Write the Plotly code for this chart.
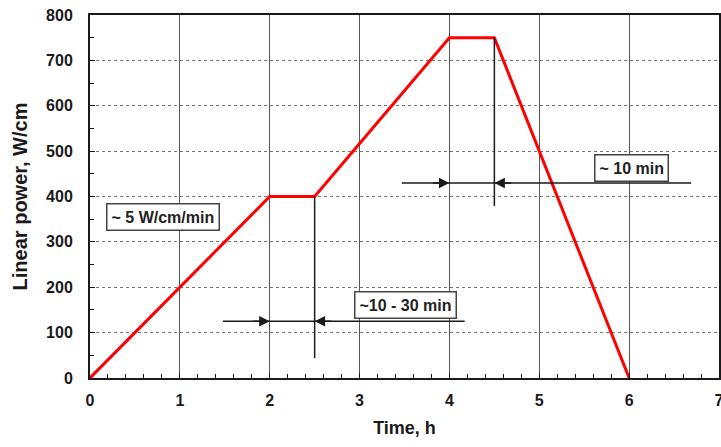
import plotly.graph_objects as go

time_h = [0, 2, 2.5, 4, 4.5, 6]
power = [0, 400, 400, 750, 750, 0]

x_ticks = [0, 1, 2, 3, 4, 5, 6, 7]
y_ticks = [0, 100, 200, 300, 400, 500, 600, 700, 800]

# annotation data
hold1_x = [2, 2.5]
hold1_y = 125
hold1_span = [1.48, 4.17]
hold1_vline = [44, 400]
hold2_x = [4, 4.5]
hold2_y = 430
hold2_span = [3.47, 6.69]
hold2_vline = [379, 750]
labels = ["~ 5 W/cm/min", "~10 - 30 min", "~ 10 min"]
label_x = [0.81, 3.51, 6.03]
label_y = [354, 161, 463]

FAM = "Liberation Sans, Arial"
fig = go.Figure()
fig.add_trace(go.Scatter(x=time_h, y=power, mode="lines",
                         line=dict(color="#ff0000", width=3), showlegend=False))

line_col = "#1a1a1a"

for span, yv in [(hold1_span, hold1_y), (hold2_span, hold2_y)]:
    fig.add_shape(type="line", x0=span[0], x1=span[1], y0=yv, y1=yv,
                  line=dict(color=line_col, width=1.5), layer="above")
for xv, vl in [(hold1_x[1], hold1_vline), (hold2_x[1], hold2_vline)]:
    fig.add_shape(type="line", x0=xv, x1=xv, y0=vl[0], y1=vl[1],
                  line=dict(color=line_col, width=1.5), layer="above")

for xs, yv in [(hold1_x, hold1_y), (hold2_x, hold2_y)]:
    fig.add_annotation(x=xs[0], y=yv, ax=xs[0] - 0.2, ay=yv, axref="x", ayref="y",
                       showarrow=True, arrowhead=2, arrowsize=1.4, arrowwidth=1.5,
                       arrowcolor=line_col, text="")
    fig.add_annotation(x=xs[1], y=yv, ax=xs[1] + 0.2, ay=yv, axref="x", ayref="y",
                       showarrow=True, arrowhead=2, arrowsize=1.4, arrowwidth=1.5,
                       arrowcolor=line_col, text="")

for t, xv, yv in zip(labels, label_x, label_y):
    fig.add_annotation(x=xv, y=yv, text="<b>" + t + "</b>", showarrow=False,
                       font=dict(family=FAM, size=16, color="#222"),
                       bgcolor="white", bordercolor="#444", borderwidth=1.5, borderpad=4)

fig.update_layout(
    width=721, height=447,
    margin=dict(l=90, r=2, t=15, b=69),
    plot_bgcolor="white", paper_bgcolor="white",
    font=dict(family=FAM, size=16, color="#1a1a1a"),
)
fig.update_xaxes(
    range=[0, 7], tickvals=x_ticks, ticktext=["<b>%d</b>" % v for v in x_ticks],
    showline=True, linecolor=line_col, linewidth=2, mirror=True,
    ticks="inside", ticklen=5, tickcolor=line_col, ticklabelstandoff=7,
    ticklabeloverflow="allow",
    minor=dict(dtick=0.2, ticks="inside", ticklen=4, tickcolor=line_col, showgrid=False),
    showgrid=True, gridcolor="#555", gridwidth=1.2,
    zeroline=False, automargin=False,
    title=dict(text="<b>Time, h</b>", font=dict(family=FAM, size=18, color="#1a1a1a"), standoff=13),
)
fig.update_yaxes(
    range=[0, 800], tickvals=y_ticks, ticktext=["<b>%d</b>" % v for v in y_ticks],
    showline=True, linecolor=line_col, linewidth=2, mirror=True,
    ticks="inside", ticklen=5, tickcolor=line_col, ticklabelstandoff=12,
    minor=dict(dtick=50, ticks="inside", ticklen=4, tickcolor=line_col, showgrid=False),
    showgrid=True, gridcolor="#777", gridwidth=1.2, griddash="dot",
    zeroline=False, automargin=False,
    title=dict(text="<b>Linear power, W/cm</b>", font=dict(family=FAM, size=20, color="#1a1a1a"), standoff=13),
)

fig.write_html("out.html")
